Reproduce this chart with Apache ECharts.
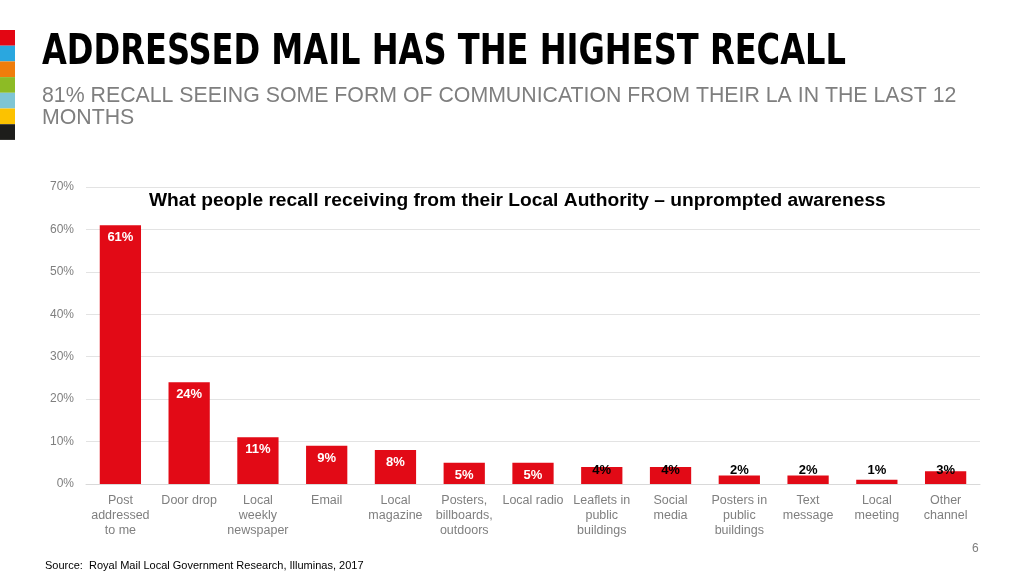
<!DOCTYPE html>
<html><head><meta charset="utf-8">
<script src="https://cdn.jsdelivr.net/npm/echarts@6/dist/echarts.min.js"></script>
<style>html,body{margin:0;padding:0;background:#fff}#c{width:1024px;height:576px}</style>
</head><body><div id="c"></div>
<script>
const categories = ["Post\naddressed\nto me","Door drop","Local\nweekly\nnewspaper","Email","Local\nmagazine","Posters,\nbillboards,\noutdoors","Local radio","Leaflets in\npublic\nbuildings","Social\nmedia","Posters in\npublic\nbuildings","Text\nmessage","Local\nmeeting","Other\nchannel"];
const values = [61,24,11,9,8,5,5,4,4,2,2,1,3];
const yTicks = [0,10,20,30,40,50,60,70];
const stripColors = ["#e30613","#2aa7df","#ef7d0b","#8dbb25","#7ec5d4","#fcc200","#1d1d1b"];

const chart = echarts.init(document.getElementById('c'));
const graphics = stripColors.map((c,i)=>({type:'rect',shape:{x:0,y:30+i*15.7,width:15,height:15.7},style:{fill:c}}));
graphics.push({type:'text',x:42,y:32,scaleX:0.85,style:{text:'ADDRESSED MAIL HAS THE HIGHEST RECALL',font:'bold 42px "Liberation Sans Narrow", "DejaVu Sans Condensed", sans-serif',fill:'#000'}});
graphics.push({type:'text',left:42,top:85,style:{text:'81% RECALL SEEING SOME FORM OF COMMUNICATION FROM THEIR LA IN THE LAST 12\nMONTHS',font:'21.3px "Liberation Sans", Arial, sans-serif',fill:'#7f7f7f',lineHeight:22}});
graphics.push({type:'text',left:149,top:191,style:{text:'What people recall receiving from their Local Authority \u2013 unprompted awareness',font:'bold 19.2px "Liberation Sans", Arial, sans-serif',fill:'#000'}});
graphics.push({type:'text',left:972,top:543,style:{text:'6',font:'12px "Liberation Sans", Arial, sans-serif',fill:'#7f7f7f'}});
graphics.push({type:'text',left:45,top:560,style:{text:'Source:  Royal Mail Local Government Research, Illuminas, 2017',font:'11px "Liberation Sans", Arial, sans-serif',fill:'#000'}});

chart.setOption({
  animation:false,
  graphic:graphics,
  grid:{left:86,right:44,top:187,bottom:92,containLabel:false},
  xAxis:{type:'category',data:categories,
    axisLine:{lineStyle:{color:'#d9d9d9'}},axisTick:{show:false},
    axisLabel:{interval:0,color:'#7f7f7f',fontSize:12.5,lineHeight:15,margin:9,fontFamily:'"Liberation Sans", Arial, sans-serif'}},
  yAxis:{type:'value',min:0,max:70,interval:10,
    axisLabel:{formatter:v=>v+'%',color:'#7f7f7f',fontSize:12,margin:12,fontFamily:'"Liberation Sans", Arial, sans-serif'},
    axisLine:{show:false},axisTick:{show:false},
    splitLine:{lineStyle:{color:'#e3e3e3'}}},
  series:[{type:'bar',barWidth:'60%',
    data:values.map(v=>({value:v,label: v>=5 ?
      {position:'insideTop',color:'#fff',distance:6} :
      {position:'insideBottom',color:'#000',distance:7}})),
    itemStyle:{color:'#e20a16'},
    label:{show:true,formatter:'{c}%',fontWeight:'bold',fontSize:13,fontFamily:'"Liberation Sans", Arial, sans-serif'}}]
});
</script></body></html>
